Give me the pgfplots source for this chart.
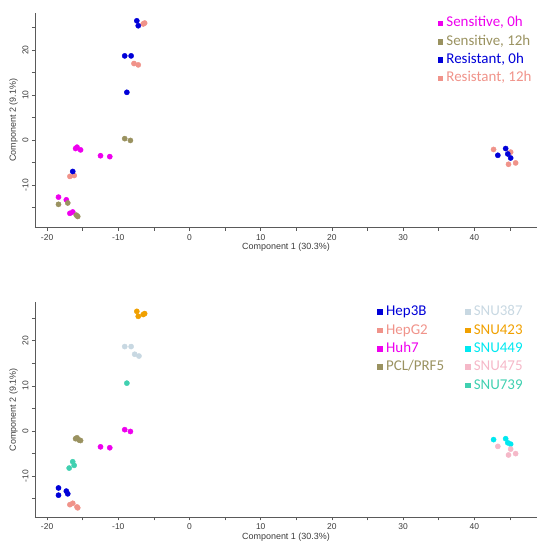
\documentclass[border=0pt]{standalone}
\usepackage{fontspec}
\setmainfont{Liberation Sans}
\newfontfamily\calibri{Carlito}
\usepackage{pgfplots}
\pgfplotsset{compat=1.18}
\definecolor{cmag}{RGB}{238,0,238}
\definecolor{coli}{RGB}{154,146,96}
\definecolor{cblu}{RGB}{0,0,216}
\definecolor{csal}{RGB}{240,147,138}
\definecolor{c387}{RGB}{200,216,226}
\definecolor{c423}{RGB}{240,160,0}
\definecolor{c449}{RGB}{0,232,240}
\definecolor{c475}{RGB}{245,184,200}
\definecolor{c739}{RGB}{64,208,176}
\definecolor{axgray}{RGB}{90,90,90}
\definecolor{tkgray}{RGB}{60,60,60}
\pgfplotsset{
  pcastyle/.style={
    scale only axis, width=502bp, height=215bp,
    axis lines*=left, axis line style={axgray, line width=0.7pt},
    xmin=-21.7, xmax=48.8,
    xtick={-20,-10,0,10,20,30,40}, minor xtick={-15,-5,5,15,25,35,45},
    ytick={-10,0,10,20}, minor ytick={-15,-5,5,15,25},
    tick align=outside, major tick length=3bp, minor tick length=3bp,
    tick style={axgray, line width=0.6pt},
    every tick label/.append style={font=\fontsize{8.5}{9}\selectfont, text=tkgray},
    /pgf/number format/assume math mode=true,
    yticklabel style={rotate=90},
    xlabel={Component 1 (30.3\%)}, ylabel={Component 2 (9.1\%)},
    label style={font=\fontsize{9}{10}\selectfont, text=tkgray},
    xlabel style={yshift=4bp},
    ylabel style={yshift=-2bp},
    legend cell align=left,
    legend image code/.code={\draw[#1] plot coordinates {(0bp,0bp)};},
    legend style={draw=none, fill=none, inner sep=0bp, row sep=0bp,
      font=\calibri\fontsize{15}{18}\selectfont,
      nodes={inner sep=0bp, text height=13bp, text depth=5.3bp},
      /tikz/every odd column/.append style={column sep=4bp}},
  },
  pts/.style={only marks, mark=*, mark size=2.6bp, color=#1, mark options={fill=#1, draw=#1}},
  lgd/.style={only marks, mark=square*, mark size=2.3bp, color=#1},
}
\begin{document}
\begin{tikzpicture}
\path[use as bounding box] (0,0) rectangle (550bp,-551bp);
% ---------------- top ----------------
\begin{axis}[pcastyle, at={(35bp,-227.7bp)}, anchor=south west,
  ymin=-19.5, ymax=28.3,
  legend style={at={(0.802,0.995)}, anchor=north west}]
\addplot[pts=cmag, forget plot] coordinates {
(-16.0,-1.9) (-15.3,-2.2) (-15.8,-1.6) (-12.5,-3.5) (-11.2,-3.7)
(-18.4,-12.7) (-17.3,-13.3) (-16.8,-16.3) (-16.4,-16.0)};
\addplot[pts=coli, forget plot] coordinates {
(-9.1,0.3) (-8.3,-0.1) (-18.4,-14.3) (-17.1,-14.0) (-15.9,-16.7) (-15.7,-17.0)};
\addplot[pts=csal, forget plot] coordinates {
(-6.5,25.8) (-6.3,26.0) (-7.8,17.0) (-7.2,16.7) (-16.8,-8.1) (-16.2,-7.9)
(42.7,-2.1) (45.1,-2.7) (44.8,-5.4) (45.8,-5.1)};
\addplot[pts=cblu, forget plot] coordinates {
(-7.4,26.5) (-7.2,25.4) (-9.1,18.7) (-8.2,18.7) (-8.8,10.6) (-16.4,-7.0)
(44.4,-1.9) (43.3,-3.4) (44.7,-3.1) (45.1,-4.0)};
\addlegendimage{lgd=cmag}\addlegendentry{\textcolor{cmag}{Sensitive, 0h}}
\addlegendimage{lgd=coli}\addlegendentry{\textcolor{coli}{Sensitive, 12h}}
\addlegendimage{lgd=cblu}\addlegendentry{\textcolor{cblu}{Resistant, 0h}}
\addlegendimage{lgd=csal}\addlegendentry{\textcolor{csal}{Resistant, 12h}}
\end{axis}
% ---------------- bottom ----------------
\begin{axis}[pcastyle, at={(35bp,-517.3bp)}, anchor=south west,
  ymin=-19.1, ymax=28.5,
  legend columns=2,
  legend style={at={(0.682,0.9986)}, anchor=north west,
    /tikz/every even column/.append style={column sep=21bp}}]
\addplot[pts=cblu, forget plot] coordinates {
(-18.4,-12.6) (-18.4,-14.2) (-17.3,-13.3) (-17.1,-13.9)};
\addplot[pts=csal, forget plot] coordinates {
(-16.8,-16.3) (-16.4,-16.0) (-15.8,-16.8) (-15.7,-17.0)};
\addplot[pts=cmag, forget plot] coordinates {
(-9.1,0.3) (-8.3,-0.1) (-12.5,-3.5) (-11.2,-3.7)};
\addplot[pts=coli, forget plot] coordinates {
(-16.0,-1.7) (-15.3,-2.1) (-15.8,-1.5) (-15.5,-2.0)};
\addplot[pts=c387, forget plot] coordinates {
(-9.1,18.7) (-8.2,18.7) (-7.7,17.0) (-7.1,16.6)};
\addplot[pts=c423, forget plot] coordinates {
(-7.4,26.5) (-7.2,25.4) (-6.5,25.8) (-6.3,26.0)};
\addplot[pts=c449, forget plot] coordinates {
(42.7,-1.9) (44.4,-1.7) (44.7,-2.6) (45.1,-2.9)};
\addplot[pts=c475, forget plot] coordinates {
(43.3,-3.4) (45.1,-4.0) (44.8,-5.3) (45.8,-5.0)};
\addplot[pts=c739, forget plot] coordinates {
(-8.8,10.6) (-16.4,-6.8) (-16.2,-7.6) (-16.9,-8.2)};
\addlegendimage{lgd=cblu}\addlegendentry{\textcolor{cblu}{Hep3B}}
\addlegendimage{lgd=c387}\addlegendentry{\textcolor{c387}{SNU387}}
\addlegendimage{lgd=csal}\addlegendentry{\textcolor{csal}{HepG2}}
\addlegendimage{lgd=c423}\addlegendentry{\textcolor{c423}{SNU423}}
\addlegendimage{lgd=cmag}\addlegendentry{\textcolor{cmag}{Huh7}}
\addlegendimage{lgd=c449}\addlegendentry{\textcolor{c449}{SNU449}}
\addlegendimage{lgd=coli}\addlegendentry{\textcolor{coli}{PCL/PRF5}}
\addlegendimage{lgd=c475}\addlegendentry{\textcolor{c475}{SNU475}}
\addlegendimage{empty legend}\addlegendentry{}
\addlegendimage{lgd=c739}\addlegendentry{\textcolor{c739}{SNU739}}
\end{axis}
\end{tikzpicture}
\end{document}
